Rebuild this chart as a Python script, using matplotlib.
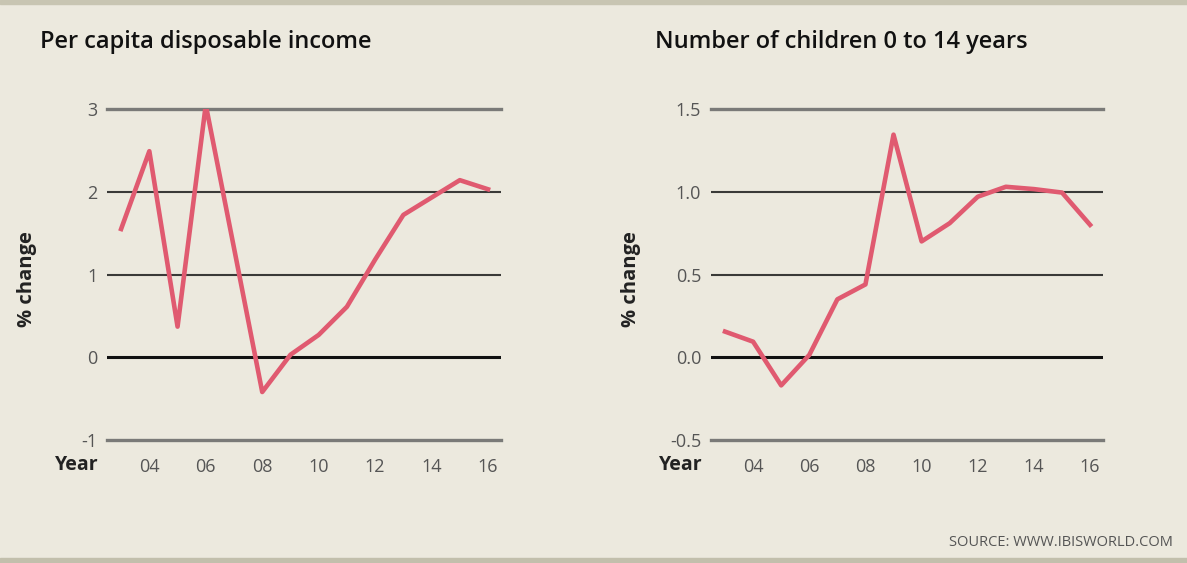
import matplotlib.pyplot as plt
from matplotlib.patches import Rectangle

years = list(range(2003, 2017))
income = [1.55, 2.49, 0.37, 3.05, 1.32, -0.42, 0.03, 0.27, 0.61, 1.18, 1.72, 1.93, 2.14, 2.03]
children = [0.155, 0.094, -0.17, 0.014, 0.35, 0.44, 1.345, 0.70, 0.81, 0.97, 1.03, 1.016, 0.995, 0.80]
xticks = [2004, 2006, 2008, 2010, 2012, 2014, 2016]
xticklabels = ['04', '06', '08', '10', '12', '14', '16']

bg = '#ECE9DE'
red = '#E05A70'

fig = plt.figure(figsize=(11.87, 5.63), dpi=100, facecolor=bg)
W, H = 1187.0, 563.0

# frame bands top and bottom
fig.patches.append(Rectangle((0, 1 - 4 / H), 1, 4 / H, transform=fig.transFigure,
                             color='#C8C5B2', zorder=0))
fig.patches.append(Rectangle((0, 0), 1, 5 / H, transform=fig.transFigure,
                             color='#C2BFAC', zorder=0))


def panel(left_px, right_px, data, ylim, yticks, ylabels, title, title_x):
    wpx = right_px - left_px
    ax = fig.add_axes([left_px / W, 1 - 440 / H, wpx / W, (440 - 109) / H])
    ax.set_facecolor('none')
    ax.set_xlim(2002.5, 2016.46)
    ax.set_ylim(*ylim)
    for s in ax.spines.values():
        s.set_visible(False)
    for v in yticks:
        if v == 0:
            ax.axhline(v, color='#111111', lw=2.2, zorder=1)
        elif v in (ylim[0], ylim[1]):
            ax.axhline(v, color='#7a7a78', lw=2.4, zorder=1, clip_on=False)
        else:
            ax.axhline(v, color='#3a3a38', lw=1.5, zorder=1)
    ax.plot(years, data, color=red, lw=3.3, zorder=3)
    ax.set_yticks(yticks)
    ax.set_yticklabels(ylabels, fontsize=13, color='#555555', family='Open Sans')
    ax.set_xticks(xticks)
    ax.set_xticklabels(xticklabels, fontsize=13, color='#555555', family='Open Sans')
    ax.tick_params(axis='both', length=0)
    ax.tick_params(axis='y', pad=7)
    ax.tick_params(axis='x', pad=13)
    ax.set_ylabel('% change', fontsize=14.5, fontweight='bold', color='#222222',
                  family='Open Sans')
    ax.yaxis.set_label_coords(-70 / wpx, 0.486)
    fig.text(title_x / W, 1 - 42 / H, title, fontsize=17, color='#111111',
             family='Open Sans', fontweight='semibold', va='center', ha='left')
    fig.text((left_px - 52) / W, 1 - 465 / H, 'Year', fontsize=14, fontweight='bold',
             color='#222222', family='Open Sans', va='center', ha='left')
    return ax


panel(107, 501, income, (-1, 3), [-1, 0, 1, 2, 3], ['-1', '0', '1', '2', '3'],
      'Per capita disposable income', 40)
panel(711, 1103, children, (-0.5, 1.5), [-0.5, 0.0, 0.5, 1.0, 1.5],
      ['-0.5', '0.0', '0.5', '1.0', '1.5'], 'Number of children 0 to 14 years', 655)

fig.text(1173 / W, 1 - 543 / H, 'SOURCE: WWW.IBISWORLD.COM', fontsize=10.5, color='#555555',
         family='Open Sans', ha='right', va='center')

fig.savefig('out.png', dpi=100, facecolor=bg)
